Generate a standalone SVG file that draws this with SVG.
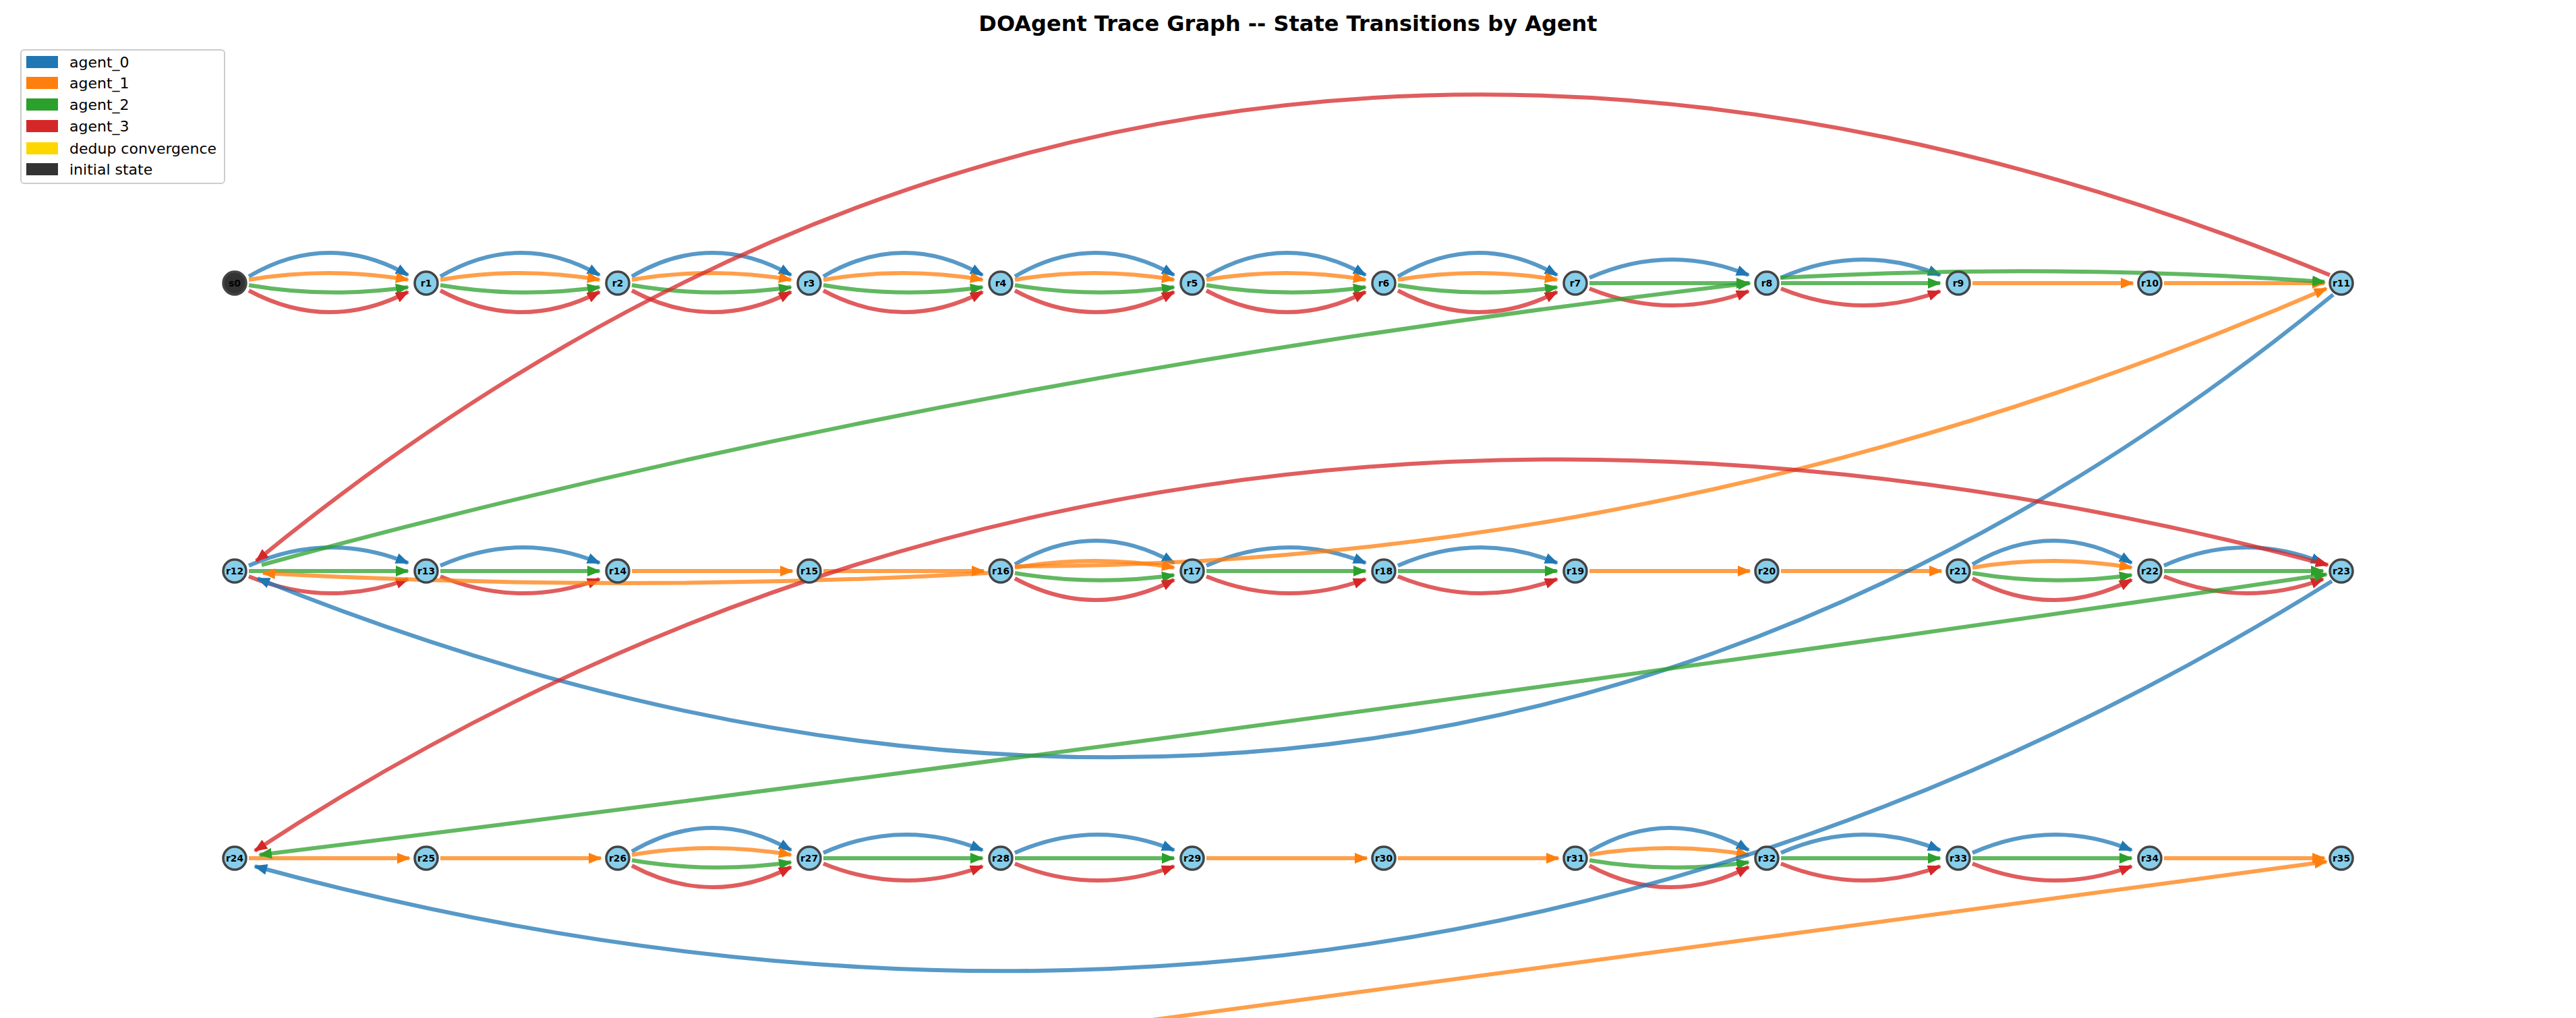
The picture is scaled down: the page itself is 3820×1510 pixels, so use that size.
<svg xmlns="http://www.w3.org/2000/svg" width="3820" height="1510" viewBox="0 0 3820 1510">
<style>
text{font-family:"DejaVu Sans",sans-serif}
.e{fill:none;stroke-width:6;stroke-opacity:0.75}
.b{stroke:#1f77b4;marker-end:url(#mb)}
.o{stroke:#ff7f0e;marker-end:url(#mo)}
.g{stroke:#2ca02c;marker-end:url(#mg)}
.r{stroke:#d62728;marker-end:url(#mr)}
.n circle{fill:#87ceeb;stroke:#444;stroke-width:3.5}
.n text{font-size:14px;font-weight:bold;text-anchor:middle;fill:#000}
.lg text{font-size:22px;fill:#000}
</style>
<defs>
<marker id="mb" viewBox="0 0 20 16" refX="18" refY="8" markerWidth="20" markerHeight="16" markerUnits="userSpaceOnUse" orient="auto-start-reverse"><path d="M0,0 L20,8 L0,16 z" fill="#1f77b4"/></marker>
<marker id="mo" viewBox="0 0 20 16" refX="18" refY="8" markerWidth="20" markerHeight="16" markerUnits="userSpaceOnUse" orient="auto-start-reverse"><path d="M0,0 L20,8 L0,16 z" fill="#ff7f0e"/></marker>
<marker id="mg" viewBox="0 0 20 16" refX="18" refY="8" markerWidth="20" markerHeight="16" markerUnits="userSpaceOnUse" orient="auto-start-reverse"><path d="M0,0 L20,8 L0,16 z" fill="#2ca02c"/></marker>
<marker id="mr" viewBox="0 0 20 16" refX="18" refY="8" markerWidth="20" markerHeight="16" markerUnits="userSpaceOnUse" orient="auto-start-reverse"><path d="M0,0 L20,8 L0,16 z" fill="#d62728"/></marker>
</defs>
<rect width="3820" height="1510" fill="#fff"/>
<text x="1910" y="46" font-size="32" font-weight="bold" text-anchor="middle">DOAgent Trace Graph -- State Transitions by Agent</text>
<g id="legend" class="lg">
<rect x="31" y="74" width="302" height="198" rx="5" fill="#fff" stroke="#ccc" stroke-width="2"/>
<rect x="39" y="83" width="47" height="18" fill="#1f77b4"/><text x="103" y="100">agent_0</text>
<rect x="39" y="114" width="47" height="18" fill="#ff7f0e"/><text x="103" y="131">agent_1</text>
<rect x="39" y="146" width="47" height="18" fill="#2ca02c"/><text x="103" y="163">agent_2</text>
<rect x="39" y="178" width="47" height="18" fill="#d62728"/><text x="103" y="195">agent_3</text>
<rect x="39" y="211" width="47" height="18" fill="#ffd700"/><text x="103" y="228">dedup convergence</text>
<rect x="39" y="242" width="47" height="18" fill="#333"/><text x="103" y="259">initial state</text>
</g>
<g id="edges">
<!-- row 0 A4 -->
<path class="e b" d="M369,410 Q487,341 605,408"/><path class="e o" d="M369,415 Q487,395 605,415"/><path class="e g" d="M369,423 Q487,443 605,426"/><path class="e r" d="M369,431 Q487,494 605,433"/>
<path class="e b" d="M653,410 Q771,341 889,408"/><path class="e o" d="M653,415 Q771,395 889,415"/><path class="e g" d="M653,423 Q771,443 889,426"/><path class="e r" d="M653,431 Q771,494 889,433"/>
<path class="e b" d="M937,410 Q1055,341 1173,408"/><path class="e o" d="M937,415 Q1055,395 1173,415"/><path class="e g" d="M937,423 Q1055,443 1173,426"/><path class="e r" d="M937,431 Q1055,494 1173,433"/>
<path class="e b" d="M1221,410 Q1339,341 1457,408"/><path class="e o" d="M1221,415 Q1339,395 1457,415"/><path class="e g" d="M1221,423 Q1339,443 1457,426"/><path class="e r" d="M1221,431 Q1339,494 1457,433"/>
<path class="e b" d="M1505,410 Q1623,341 1741,408"/><path class="e o" d="M1505,415 Q1623,395 1741,415"/><path class="e g" d="M1505,423 Q1623,443 1741,426"/><path class="e r" d="M1505,431 Q1623,494 1741,433"/>
<path class="e b" d="M1789,410 Q1907,341 2025,408"/><path class="e o" d="M1789,415 Q1907,395 2025,415"/><path class="e g" d="M1789,423 Q1907,443 2025,426"/><path class="e r" d="M1789,431 Q1907,494 2025,433"/>
<path class="e b" d="M2073,410 Q2191,341 2309,408"/><path class="e o" d="M2073,415 Q2191,395 2309,415"/><path class="e g" d="M2073,423 Q2191,443 2309,426"/><path class="e r" d="M2073,431 Q2191,494 2309,433"/>
<!-- row 0 A3 -->
<path class="e b" d="M2357,412 Q2475,360 2593,408"/><path class="e g" d="M2357,420 L2593,420"/><path class="e r" d="M2357,428 Q2475,476 2593,432"/>
<path class="e b" d="M2641,412 Q2759,360 2877,408"/><path class="e g" d="M2641,420 L2877,420"/><path class="e r" d="M2641,428 Q2759,476 2877,432"/>
<!-- row 0 O -->
<path class="e o" d="M2925,420 L3163,420"/><path class="e o" d="M3209,420 L3447,420"/>
<!-- row 1 -->
<path class="e b" d="M369,839 Q487,787 605,835"/><path class="e g" d="M369,847 L605,847"/><path class="e r" d="M369,855 Q487,903 605,859"/>
<path class="e b" d="M653,839 Q771,787 889,835"/><path class="e g" d="M653,847 L889,847"/><path class="e r" d="M653,855 Q771,903 889,859"/>
<path class="e o" d="M937,847 L1175,847"/><path class="e o" d="M1221,847 L1459,847"/>
<path class="e b" d="M1505,837 Q1623,768 1741,835"/><path class="e o" d="M1505,842 Q1623,822 1741,842"/><path class="e g" d="M1505,850 Q1623,870 1741,853"/><path class="e r" d="M1505,858 Q1623,921 1741,860"/>
<path class="e b" d="M1789,839 Q1907,787 2025,835"/><path class="e g" d="M1789,847 L2025,847"/><path class="e r" d="M1789,855 Q1907,903 2025,859"/>
<path class="e b" d="M2073,839 Q2191,787 2309,835"/><path class="e g" d="M2073,847 L2309,847"/><path class="e r" d="M2073,855 Q2191,903 2309,859"/>
<path class="e o" d="M2357,847 L2595,847"/><path class="e o" d="M2641,847 L2879,847"/>
<path class="e b" d="M2925,837 Q3043,768 3161,835"/><path class="e o" d="M2925,842 Q3043,822 3161,842"/><path class="e g" d="M2925,850 Q3043,870 3161,853"/><path class="e r" d="M2925,858 Q3043,921 3161,860"/>
<path class="e b" d="M3209,839 Q3327,787 3445,835"/><path class="e g" d="M3209,847 L3445,847"/><path class="e r" d="M3209,855 Q3327,903 3445,859"/>
<!-- row 2 -->
<path class="e o" d="M369,1273 L607,1273"/><path class="e o" d="M653,1273 L891,1273"/>
<path class="e b" d="M937,1263 Q1055,1194 1173,1261"/><path class="e o" d="M937,1268 Q1055,1248 1173,1268"/><path class="e g" d="M937,1276 Q1055,1296 1173,1279"/><path class="e r" d="M937,1284 Q1055,1347 1173,1286"/>
<path class="e b" d="M1221,1265 Q1339,1213 1457,1261"/><path class="e g" d="M1221,1273 L1457,1273"/><path class="e r" d="M1221,1281 Q1339,1329 1457,1285"/>
<path class="e b" d="M1505,1265 Q1623,1213 1741,1261"/><path class="e g" d="M1505,1273 L1741,1273"/><path class="e r" d="M1505,1281 Q1623,1329 1741,1285"/>
<path class="e o" d="M1789,1273 L2027,1273"/><path class="e o" d="M2073,1273 L2311,1273"/>
<path class="e b" d="M2357,1263 Q2475,1194 2593,1261"/><path class="e o" d="M2357,1268 Q2475,1248 2593,1268"/><path class="e g" d="M2357,1276 Q2475,1296 2593,1279"/><path class="e r" d="M2357,1284 Q2475,1347 2593,1286"/>
<path class="e b" d="M2641,1265 Q2759,1213 2877,1261"/><path class="e g" d="M2641,1273 L2877,1273"/><path class="e r" d="M2641,1281 Q2759,1329 2877,1285"/>
<path class="e b" d="M2925,1265 Q3043,1213 3161,1261"/><path class="e g" d="M2925,1273 L3161,1273"/><path class="e r" d="M2925,1281 Q3043,1329 3161,1285"/>
<path class="e o" d="M3209,1273 L3447,1273"/>
<!-- long edges -->
<path class="e r" d="M3455,408 Q1750,-290 380,832"/>
<path class="e b" d="M3460,437 Q2100,1550 382,858"/>
<path class="e g" d="M388,838 Q1400,560 2595,420"/>
<path class="e g" d="M2640,412 Q3050,390 3447,418"/>
<path class="e o" d="M1505,840 Q2500,840 3450,428"/>
<path class="e o" d="M1465,850 Q930,880 390,850"/>
<path class="e r" style="marker-start:url(#mr)" d="M3452,838 Q1724,380 378,1262"/>
<path class="e g" style="marker-start:url(#mg)" d="M385,1268 Q1900,1080 3450,852"/>
<path class="e b" d="M3458,862 Q2050,1740 378,1285"/>
<path class="e o" d="M1500,1541 L3450,1278"/>
</g>
<g id="s0" class="n"><circle cx="348" cy="420" r="17" style="fill:#333"/><text x="348" y="425">s0</text></g>
<g id="r1" class="n"><circle cx="632" cy="420" r="17"/><text x="632" y="425">r1</text></g>
<g id="r2" class="n"><circle cx="916" cy="420" r="17"/><text x="916" y="425">r2</text></g>
<g id="r3" class="n"><circle cx="1200" cy="420" r="17"/><text x="1200" y="425">r3</text></g>
<g id="r4" class="n"><circle cx="1484" cy="420" r="17"/><text x="1484" y="425">r4</text></g>
<g id="r5" class="n"><circle cx="1768" cy="420" r="17"/><text x="1768" y="425">r5</text></g>
<g id="r6" class="n"><circle cx="2052" cy="420" r="17"/><text x="2052" y="425">r6</text></g>
<g id="r7" class="n"><circle cx="2336" cy="420" r="17"/><text x="2336" y="425">r7</text></g>
<g id="r8" class="n"><circle cx="2620" cy="420" r="17"/><text x="2620" y="425">r8</text></g>
<g id="r9" class="n"><circle cx="2904" cy="420" r="17"/><text x="2904" y="425">r9</text></g>
<g id="r10" class="n"><circle cx="3188" cy="420" r="17"/><text x="3188" y="425" textLength="26" lengthAdjust="spacingAndGlyphs">r10</text></g>
<g id="r11" class="n"><circle cx="3472" cy="420" r="17"/><text x="3472" y="425" textLength="26" lengthAdjust="spacingAndGlyphs">r11</text></g>
<g id="r12" class="n"><circle cx="348" cy="847" r="17"/><text x="348" y="852" textLength="26" lengthAdjust="spacingAndGlyphs">r12</text></g>
<g id="r13" class="n"><circle cx="632" cy="847" r="17"/><text x="632" y="852" textLength="26" lengthAdjust="spacingAndGlyphs">r13</text></g>
<g id="r14" class="n"><circle cx="916" cy="847" r="17"/><text x="916" y="852" textLength="26" lengthAdjust="spacingAndGlyphs">r14</text></g>
<g id="r15" class="n"><circle cx="1200" cy="847" r="17"/><text x="1200" y="852" textLength="26" lengthAdjust="spacingAndGlyphs">r15</text></g>
<g id="r16" class="n"><circle cx="1484" cy="847" r="17"/><text x="1484" y="852" textLength="26" lengthAdjust="spacingAndGlyphs">r16</text></g>
<g id="r17" class="n"><circle cx="1768" cy="847" r="17"/><text x="1768" y="852" textLength="26" lengthAdjust="spacingAndGlyphs">r17</text></g>
<g id="r18" class="n"><circle cx="2052" cy="847" r="17"/><text x="2052" y="852" textLength="26" lengthAdjust="spacingAndGlyphs">r18</text></g>
<g id="r19" class="n"><circle cx="2336" cy="847" r="17"/><text x="2336" y="852" textLength="26" lengthAdjust="spacingAndGlyphs">r19</text></g>
<g id="r20" class="n"><circle cx="2620" cy="847" r="17"/><text x="2620" y="852" textLength="26" lengthAdjust="spacingAndGlyphs">r20</text></g>
<g id="r21" class="n"><circle cx="2904" cy="847" r="17"/><text x="2904" y="852" textLength="26" lengthAdjust="spacingAndGlyphs">r21</text></g>
<g id="r22" class="n"><circle cx="3188" cy="847" r="17"/><text x="3188" y="852" textLength="26" lengthAdjust="spacingAndGlyphs">r22</text></g>
<g id="r23" class="n"><circle cx="3472" cy="847" r="17"/><text x="3472" y="852" textLength="26" lengthAdjust="spacingAndGlyphs">r23</text></g>
<g id="r24" class="n"><circle cx="348" cy="1273" r="17"/><text x="348" y="1278" textLength="26" lengthAdjust="spacingAndGlyphs">r24</text></g>
<g id="r25" class="n"><circle cx="632" cy="1273" r="17"/><text x="632" y="1278" textLength="26" lengthAdjust="spacingAndGlyphs">r25</text></g>
<g id="r26" class="n"><circle cx="916" cy="1273" r="17"/><text x="916" y="1278" textLength="26" lengthAdjust="spacingAndGlyphs">r26</text></g>
<g id="r27" class="n"><circle cx="1200" cy="1273" r="17"/><text x="1200" y="1278" textLength="26" lengthAdjust="spacingAndGlyphs">r27</text></g>
<g id="r28" class="n"><circle cx="1484" cy="1273" r="17"/><text x="1484" y="1278" textLength="26" lengthAdjust="spacingAndGlyphs">r28</text></g>
<g id="r29" class="n"><circle cx="1768" cy="1273" r="17"/><text x="1768" y="1278" textLength="26" lengthAdjust="spacingAndGlyphs">r29</text></g>
<g id="r30" class="n"><circle cx="2052" cy="1273" r="17"/><text x="2052" y="1278" textLength="26" lengthAdjust="spacingAndGlyphs">r30</text></g>
<g id="r31" class="n"><circle cx="2336" cy="1273" r="17"/><text x="2336" y="1278" textLength="26" lengthAdjust="spacingAndGlyphs">r31</text></g>
<g id="r32" class="n"><circle cx="2620" cy="1273" r="17"/><text x="2620" y="1278" textLength="26" lengthAdjust="spacingAndGlyphs">r32</text></g>
<g id="r33" class="n"><circle cx="2904" cy="1273" r="17"/><text x="2904" y="1278" textLength="26" lengthAdjust="spacingAndGlyphs">r33</text></g>
<g id="r34" class="n"><circle cx="3188" cy="1273" r="17"/><text x="3188" y="1278" textLength="26" lengthAdjust="spacingAndGlyphs">r34</text></g>
<g id="r35" class="n"><circle cx="3472" cy="1273" r="17"/><text x="3472" y="1278" textLength="26" lengthAdjust="spacingAndGlyphs">r35</text></g>
</svg>
